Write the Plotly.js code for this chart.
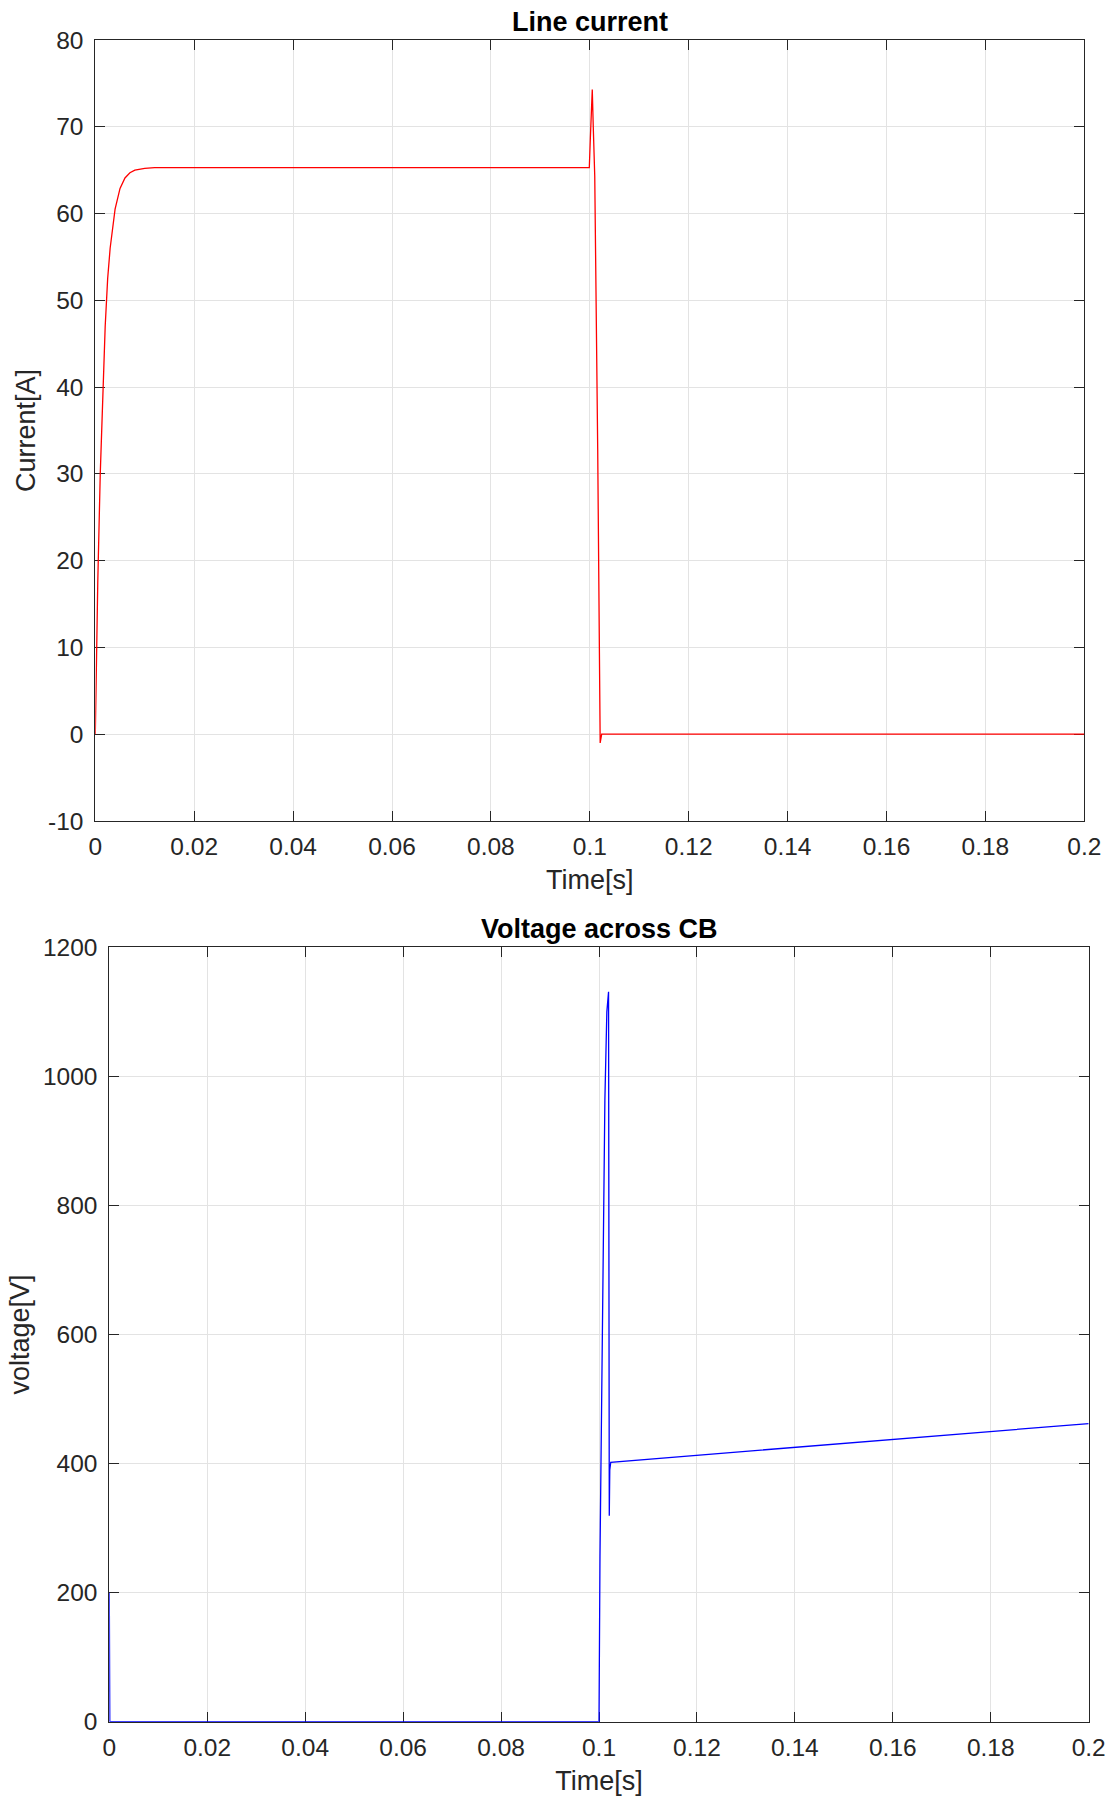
<!DOCTYPE html>
<html>
<head>
<meta charset="utf-8">
<script src="https://cdn.plot.ly/plotly-3.0.1.min.js"></script>
<style>html,body{margin:0;padding:0;background:#fff;}#chart{width:1113px;height:1803px;}</style>
</head>
<body>
<div id="chart"></div>
<script>
// Line current (A) vs time (s)
const timeCurrent = [0, 0.0002, 0.0005, 0.001, 0.0015, 0.002, 0.0025, 0.003, 0.004, 0.005, 0.006, 0.007, 0.008, 0.01, 0.012, 0.015, 0.0999, 0.1001, 0.1003, 0.1005, 0.1007, 0.1010, 0.1016, 0.1021, 0.1024, 0.2];
const current     = [0, 7.8, 17.5, 30, 39.5, 47, 52.5, 56, 60.5, 62.9, 64.1, 64.7, 65.0, 65.2, 65.3, 65.3, 65.3, 68.5, 72.5, 74.3, 70, 64.3, 32.8, -1.0, 0, 0];

// Voltage across CB (V) vs time (s)
const timeVoltage = [0, 0.0001, 0.0999, 0.1000, 0.1002, 0.1005, 0.1012, 0.1016, 0.10195, 0.1021, 0.1022, 0.1024, 0.2];
const voltage     = [200, 0, 0, 0, 255, 500, 963, 1100, 1131, 319, 390, 402, 462];

const xTicks = [0, 0.02, 0.04, 0.06, 0.08, 0.1, 0.12, 0.14, 0.16, 0.18, 0.2];
const xTickLabels = ['0', '0.02', '0.04', '0.06', '0.08', '0.1', '0.12', '0.14', '0.16', '0.18', '0.2'];
const currentTicks = [-10, 0, 10, 20, 30, 40, 50, 60, 70, 80];
const currentTickLabels = ['-10', '0', '10', '20', '30', '40', '50', '60', '70', '80'];
const voltageTicks = [0, 200, 400, 600, 800, 1000, 1200];
const voltageTickLabels = ['0', '200', '400', '600', '800', '1000', '1200'];

const W = 1113, H = 1803;
const FONT = 'Liberation Sans, Arial, Helvetica, sans-serif';
const axisCol = '#262626';
const TICK_SIZE = 24.5, LABEL_SIZE = 27;

function xAxis(domain, anchor, standoff) {
  return {
    domain: domain, anchor: anchor, range: [0, 0.2],
    tickmode: 'array', tickvals: xTicks, ticktext: xTickLabels,
    ticks: 'inside', ticklen: 10, tickwidth: 1, tickcolor: axisCol,
    showline: true, linecolor: axisCol, linewidth: 1, mirror: 'ticks',
    showgrid: true, gridcolor: '#e3e3e3', gridwidth: 1, zeroline: false,
    tickfont: {family: FONT, size: TICK_SIZE, color: axisCol},
    ticklabelstandoff: 4,
    layer: 'below traces',
    title: {text: 'Time[s]', font: {family: FONT, size: LABEL_SIZE, color: axisCol}, standoff: standoff}
  };
}
function yAxis(domain, anchor, range, ticks, labels, label, standoff) {
  return {
    domain: domain, anchor: anchor, range: range,
    tickmode: 'array', tickvals: ticks, ticktext: labels,
    ticks: 'inside', ticklen: 10, tickwidth: 1, tickcolor: axisCol,
    showline: true, linecolor: axisCol, linewidth: 1, mirror: 'ticks',
    showgrid: true, gridcolor: '#e3e3e3', gridwidth: 1, zeroline: false,
    tickfont: {family: FONT, size: TICK_SIZE, color: axisCol},
    ticklabelstandoff: 6,
    layer: 'below traces',
    title: {text: label, font: {family: FONT, size: LABEL_SIZE, color: axisCol}, standoff: standoff}
  };
}

const traces = [
  {x: timeCurrent, y: current, type: 'scatter', mode: 'lines', line: {color: '#ff0000', width: 1.3}, xaxis: 'x', yaxis: 'y', showlegend: false},
  {x: timeVoltage, y: voltage, type: 'scatter', mode: 'lines', line: {color: '#0000ff', width: 1.3}, xaxis: 'x2', yaxis: 'y2', showlegend: false}
];

const layout = {
  width: W, height: H,
  margin: {l: 0, r: 0, t: 0, b: 0},
  paper_bgcolor: '#ffffff', plot_bgcolor: '#ffffff',
  font: {family: FONT, color: axisCol},
  showlegend: false,
  xaxis: xAxis([95.3 / W, 1084.3 / W], 'y', 10),
  yaxis: yAxis([1 - 821 / H, 1 - 40 / H], 'x', [-10, 80], currentTicks, currentTickLabels, 'Current[A]', 4),
  xaxis2: xAxis([109.3 / W, 1088.7 / W], 'y2', 11),
  yaxis2: yAxis([1 - 1721.7 / H, 1 - 947.3 / H], 'x2', [0, 1200], voltageTicks, voltageTickLabels, 'voltage[V]', 5),
  annotations: [
    {text: '<b>Line current</b>', xref: 'paper', yref: 'paper', x: 590 / W, y: 1 - 22 / H, xanchor: 'center', yanchor: 'middle', showarrow: false, font: {family: FONT, size: LABEL_SIZE, color: '#000'}},
    {text: '<b>Voltage across CB</b>', xref: 'paper', yref: 'paper', x: 599 / W, y: 1 - 929 / H, xanchor: 'center', yanchor: 'middle', showarrow: false, font: {family: FONT, size: LABEL_SIZE, color: '#000'}}
  ]
};

Plotly.newPlot('chart', traces, layout, {displayModeBar: false, staticPlot: true});
</script>
</body>
</html>
